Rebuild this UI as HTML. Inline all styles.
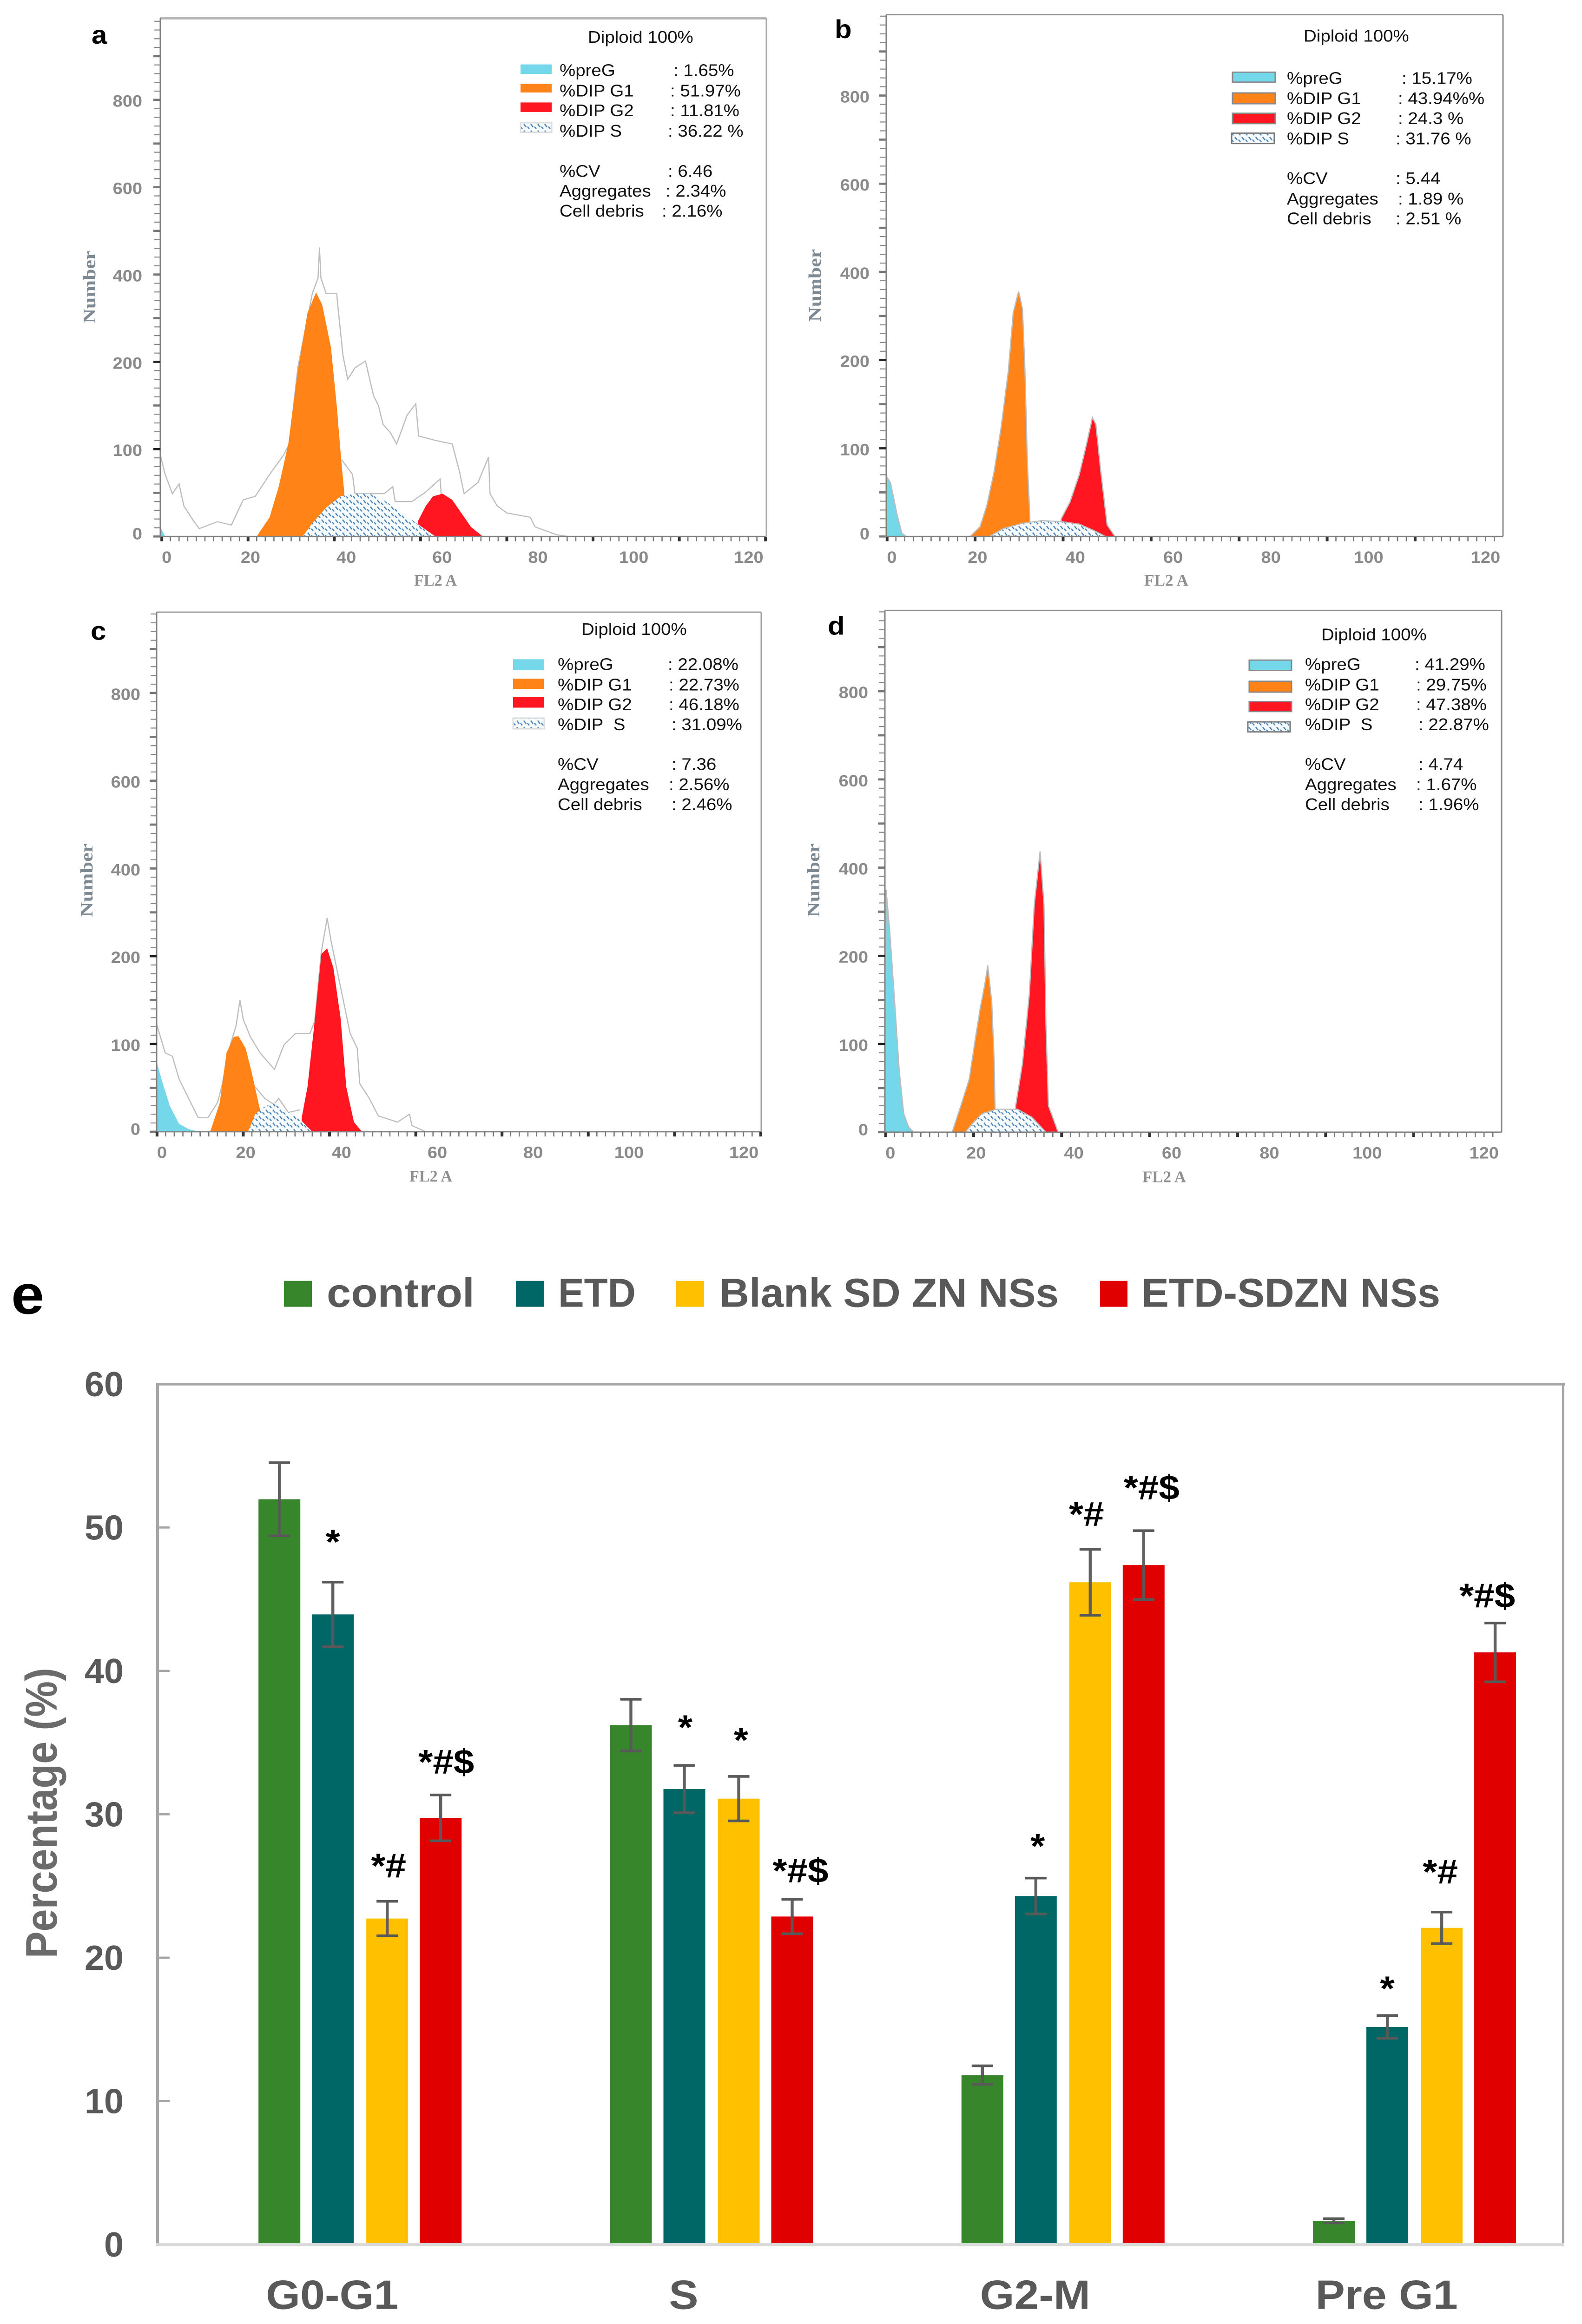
<!DOCTYPE html>
<html lang="en">
<head>
<meta charset="utf-8">
<title>Cell cycle analysis</title>
<style>
html,body{margin:0;padding:0;background:#fff;width:100%;height:100%;overflow:hidden;}
svg{display:block;position:absolute;left:0;top:0;width:100vw;height:100vh;overflow:hidden;}
.st{font-family:"Liberation Sans",sans-serif;font-size:38.5px;fill:#111;}
.ax{font-family:"Liberation Serif",serif;font-weight:bold;fill:#7d8a94;font-size:38px;}
.fl{font-family:"Liberation Serif",serif;font-weight:bold;fill:#8f8f8f;font-size:38px;}
.pl{font-family:"Liberation Sans",sans-serif;font-weight:bold;fill:#000;font-size:60px;}
.lg{font-family:"Liberation Sans",sans-serif;font-weight:bold;fill:#595959;font-size:94px;}
</style>
</head>
<body>
<svg id="figure" xmlns="http://www.w3.org/2000/svg" viewBox="0 0 3404 5376" preserveAspectRatio="none">
<defs>
<pattern id="hatch" width="15" height="15" patternUnits="userSpaceOnUse">
<rect width="15" height="15" fill="#f6fbfe"/>
<path d="M2 2 L7 9 M10 8 L14 13" stroke="#4a83b8" stroke-width="2.6" fill="none"/>
</pattern>
</defs>
<rect width="3404" height="5376" fill="#fff"/>

<g id="panel-a"></g>
<g id="panel-b"></g>
<g id="panel-c"></g>
<g id="panel-d"></g>

<g>
<text class="pl" x="197" y="101" font-size="62">a</text>
<text class="ax" transform="translate(205 664) rotate(-90)" text-anchor="middle" textLength="168" lengthAdjust="spacingAndGlyphs">Number</text>
<text class="fl" x="891" y="1355" textLength="92" lengthAdjust="spacingAndGlyphs">FL2 A</text>
<text class="st" x="1265" y="99">Diploid 100%</text>
<rect x="1120" y="149" width="67" height="22" fill="#75d7ea"/>
<rect x="1120" y="194" width="67" height="20" fill="#ff8317"/>
<rect x="1120" y="237" width="67" height="22" fill="#ff1620"/>
<rect x="1120" y="284" width="67" height="22" fill="url(#hatch)" stroke="#ddd" stroke-width="3"/>
<text class="st" x="1204" y="176">%preG</text>
<text class="st" x="1204" y="223">%DIP G1</text>
<text class="st" x="1204" y="269">%DIP G2</text>
<text class="st" x="1204" y="316">%DIP S</text>
<text class="st" x="1449" y="176">: 1.65%</text>
<text class="st" x="1442" y="223">: 51.97%</text>
<text class="st" x="1442" y="269">: 11.81%</text>
<text class="st" x="1437" y="316">: 36.22 %</text>
<text class="st" x="1204" y="409">%CV</text>
<text class="st" x="1204" y="455">Aggregates</text>
<text class="st" x="1204" y="501">Cell debris</text>
<text class="st" x="1437" y="409">: 6.46</text>
<text class="st" x="1432" y="455">: 2.34%</text>
<text class="st" x="1424" y="501">: 2.16%</text>
</g>

<g>
<text class="pl" x="1796" y="88">b</text>
<text class="ax" transform="translate(1766 660) rotate(-90)" text-anchor="middle" textLength="168" lengthAdjust="spacingAndGlyphs">Number</text>
<text class="fl" x="2462" y="1355" textLength="95" lengthAdjust="spacingAndGlyphs">FL2 A</text>
<text class="st" x="2805" y="96">Diploid 100%</text>
<rect x="2652" y="167" width="92" height="23" fill="#75d7ea" stroke="#888" stroke-width="3"/>
<rect x="2652" y="215" width="92" height="25" fill="#ff8317" stroke="#888" stroke-width="3"/>
<rect x="2652" y="262" width="92" height="24" fill="#ff1620" stroke="#888" stroke-width="3"/>
<rect x="2650" y="308" width="92" height="24" fill="url(#hatch)" stroke="#777" stroke-width="3"/>
<text class="st" x="2769" y="194">%preG</text>
<text class="st" x="2769" y="241">%DIP G1</text>
<text class="st" x="2769" y="287">%DIP G2</text>
<text class="st" x="2769" y="334">%DIP S</text>
<text class="st" x="3016" y="194">: 15.17%</text>
<text class="st" x="3008" y="241">: 43.94%%</text>
<text class="st" x="3008" y="287">: 24.3 %</text>
<text class="st" x="3003" y="334">: 31.76 %</text>
<text class="st" x="2769" y="426">%CV</text>
<text class="st" x="2769" y="473">Aggregates</text>
<text class="st" x="2769" y="519">Cell debris</text>
<text class="st" x="3003" y="426">: 5.44</text>
<text class="st" x="3008" y="473">: 1.89 %</text>
<text class="st" x="3003" y="519">: 2.51 %</text>
</g>

<g>
<text class="pl" x="195" y="1480" font-size="62">c</text>
<text class="ax" transform="translate(199 2036) rotate(-90)" text-anchor="middle" textLength="170" lengthAdjust="spacingAndGlyphs">Number</text>
<text class="fl" x="881" y="2733" textLength="92" lengthAdjust="spacingAndGlyphs">FL2 A</text>
<text class="st" x="1251" y="1469">Diploid 100%</text>
<rect x="1104" y="1525" width="67" height="25" fill="#75d7ea"/>
<rect x="1104" y="1570" width="67" height="24" fill="#ff8317"/>
<rect x="1104" y="1612" width="67" height="25" fill="#ff1620"/>
<rect x="1104" y="1661" width="67" height="25" fill="url(#hatch)" stroke="#ddd" stroke-width="3"/>
<text class="st" x="1200" y="1550">%preG</text>
<text class="st" x="1200" y="1597">%DIP G1</text>
<text class="st" x="1200" y="1643">%DIP G2</text>
<text class="st" x="1200" y="1689">%DIP&#160;&#160;S</text>
<text class="st" x="1437" y="1550">: 22.08%</text>
<text class="st" x="1439" y="1597">: 22.73%</text>
<text class="st" x="1439" y="1643">: 46.18%</text>
<text class="st" x="1445" y="1689">: 31.09%</text>
<text class="st" x="1200" y="1781">%CV</text>
<text class="st" x="1200" y="1828">Aggregates</text>
<text class="st" x="1200" y="1874">Cell debris</text>
<text class="st" x="1445" y="1781">: 7.36</text>
<text class="st" x="1439" y="1828">: 2.56%</text>
<text class="st" x="1445" y="1874">: 2.46%</text>
</g>

<g>
<text class="pl" x="1781" y="1468">d</text>
<text class="ax" transform="translate(1763 2036) rotate(-90)" text-anchor="middle" textLength="170" lengthAdjust="spacingAndGlyphs">Number</text>
<text class="fl" x="2458" y="2735" textLength="94" lengthAdjust="spacingAndGlyphs">FL2 A</text>
<text class="st" x="2843" y="1481">Diploid 100%</text>
<rect x="2688" y="1527" width="91" height="24" fill="#75d7ea" stroke="#888" stroke-width="3"/>
<rect x="2688" y="1576" width="91" height="25" fill="#ff8317" stroke="#888" stroke-width="3"/>
<rect x="2688" y="1623" width="91" height="23" fill="#ff1620" stroke="#888" stroke-width="3"/>
<rect x="2685" y="1670" width="91" height="23" fill="url(#hatch)" stroke="#777" stroke-width="3"/>
<text class="st" x="2808" y="1550">%preG</text>
<text class="st" x="2808" y="1597">%DIP G1</text>
<text class="st" x="2808" y="1643">%DIP G2</text>
<text class="st" x="2808" y="1689">%DIP&#160;&#160;S</text>
<text class="st" x="3044" y="1550">: 41.29%</text>
<text class="st" x="3047" y="1597">: 29.75%</text>
<text class="st" x="3047" y="1643">: 47.38%</text>
<text class="st" x="3052" y="1689">: 22.87%</text>
<text class="st" x="2808" y="1781">%CV</text>
<text class="st" x="2808" y="1828">Aggregates</text>
<text class="st" x="2808" y="1874">Cell debris</text>
<text class="st" x="3052" y="1781">: 4.74</text>
<text class="st" x="3047" y="1828">: 1.67%</text>
<text class="st" x="3052" y="1874">: 1.96%</text>
</g>

<g>
<text x="24" y="3039" font-family="Liberation Sans, sans-serif" font-weight="bold" font-size="128" fill="#000">e</text>
<rect x="611" y="2963" width="60" height="60" fill="#38862c"/>
<text class="lg" x="703" y="3023" textLength="318" lengthAdjust="spacingAndGlyphs">control</text>
<rect x="1110" y="2963" width="60" height="60" fill="#006666"/>
<text class="lg" x="1201" y="3023" textLength="167" lengthAdjust="spacingAndGlyphs">ETD</text>
<rect x="1455" y="2963" width="60" height="60" fill="#ffc000"/>
<text class="lg" x="1548" y="3023" textLength="730" lengthAdjust="spacingAndGlyphs">Blank SD ZN NSs</text>
<rect x="2367" y="2963" width="59" height="60" fill="#e00000"/>
<text class="lg" x="2456" y="3023" textLength="643" lengthAdjust="spacingAndGlyphs">ETD-SDZN NSs</text>
</g>

<g id="bar-chart"></g>
<text transform="translate(122 4194) rotate(-90)" text-anchor="middle" font-family="Liberation Sans, sans-serif" font-weight="bold" font-size="96" fill="#6b6b6b" textLength="672" lengthAdjust="spacingAndGlyphs">Percentage (%)</text>
</svg>

<script>
/* ---------- Flow cytometry tick labels ---------- */
const numberTicks = [0, 100, 200, 400, 600, 800];
const fl2Ticks = [0, 20, 40, 60, 80, 100, 120];

/* ---------- Panel a (FL2 A value / cell number) ---------- */
const aPreGX = [1.2, 1.2, 2.2];
const aPreGY = [0, 11, 0];
const aG1X = [21.3, 24, 25.9, 27.9, 29.9, 31.9, 33.7, 35, 36.8, 38, 39, 39.6, 39.6];
const aG1Y = [0, 22, 57, 106, 190, 312, 359, 330, 233, 150, 84, 49, 0];
const aG2X = [55, 55, 56.6, 58.1, 60.1, 62.1, 64, 66, 68.5];
const aG2Y = [0, 18, 35, 46, 49, 42, 27, 11, 0];
const aSX = [30.9, 32.9, 35.8, 38.8, 41.8, 44.8, 47.7, 50.7, 54.7, 58.6];
const aSY = [0, 15, 33, 46, 49, 49, 42, 31, 15, 0];
const aRawX = [1.2, 2.2, 3.7, 5.1, 6.1, 8.1, 9.3, 13.1, 16, 18.5, 21, 24, 26.9, 28.1, 29.9, 32.9, 34.1, 34.4, 34.7, 35.8, 38, 38.3, 39.3, 40.3, 41.8, 44, 45.7, 46.7, 47.7, 49.2, 50.5, 52.7, 54.5, 55.1, 58.6, 62.1, 63.6, 64.6, 67.5, 69.7, 70, 71.5, 73.5, 78.4, 79.4, 83.9, 86.3];
const aRawY = [93, 71, 49, 60, 35, 18, 9, 17, 13, 42, 46, 71, 93, 106, 194, 356, 392, 462, 392, 356, 356, 321, 215, 180, 193, 202, 161, 150, 128, 119, 106, 139, 152, 115, 110, 106, 75, 49, 62, 91, 49, 35, 27, 22, 11, 2, 0];
const aRaw2X = [39, 41.3, 41.8, 47.9, 49.7, 50.2, 53.7, 56.6, 59.6, 59.8];
const aRaw2Y = [88, 71, 49, 49, 57, 40, 40, 51, 66, 49];

/* ---------- Panel b ---------- */
const bPreGX = [1.4, 1.4, 2.2, 3.5, 4.5, 5.4];
const bPreGY = [0, 68, 61, 26, 4, 0];
const bG1X = [18.5, 20.5, 21.9, 23.4, 24.8, 26.3, 27.3, 28.4, 29.2, 29.7, 30.2, 30.7, 30.7];
const bG1Y = [0, 11, 35, 74, 123, 188, 308, 356, 316, 188, 83, 22, 0];
const bG2X = [37.1, 37.1, 38.9, 40.8, 42.3, 43.5, 44.2, 45.2, 46.5, 48.1];
const bG2Y = [0, 20, 39, 70, 105, 135, 127, 74, 13, 0];
const bSX = [22.4, 25.3, 29.2, 33.1, 37, 40.8, 43.7, 46.2];
const bSY = [0, 9, 15, 18, 17, 14, 7, 0];
const bRawX = [];
const bRawY = [];
const bRaw2X = [];
const bRaw2Y = [];

/* ---------- Panel c ---------- */
const cPreGX = [1.4, 1.4, 2.7, 4.2, 6.1, 8.1, 10.3];
const cPreGY = [0, 80, 55, 29, 9, 3, 0];
const cG1X = [12.6, 14.6, 16, 17.5, 18.5, 20, 21.2, 23, 23];
const cG1Y = [0, 33, 90, 108, 109, 95, 69, 25, 0];
const cG2X = [31.7, 31.7, 32.9, 34.4, 35.8, 37, 38.3, 39.8, 41, 42.6, 44.3];
const cG2Y = [0, 16, 51, 126, 205, 218, 187, 130, 51, 11, 0];
const cSX = [20.5, 22, 24, 26.4, 28.9, 31.4, 33.9];
const cSY = [0, 20, 29, 33, 22, 14, 0];
const cRawX = [1.4, 3.2, 4.7, 6.1, 8.1, 10.1, 12.1, 14.1, 15, 16.6, 18, 18.8, 19.5, 21, 23, 26, 28, 30.4, 33.4, 34.4, 35.8, 37, 37.8, 39.8, 41.8, 43.3, 43.8, 45.8, 47.7, 51.7, 54.2, 54.7, 57.6];
const cRawY = [123, 90, 86, 60, 38, 16, 16, 33, 51, 95, 121, 150, 128, 108, 90, 71, 99, 112, 112, 126, 210, 287, 236, 165, 112, 95, 55, 38, 18, 11, 20, 7, 0];
const cRaw2X = [22, 24, 25.9, 26.9, 28.9, 31.4];
const cRaw2Y = [51, 38, 31, 38, 22, 25];

/* ---------- Panel d ---------- */
const dPreGX = [1.4, 1.6, 2.3, 3.3, 4.3, 5.2, 6.2, 7.2];
const dPreGY = [0, 350, 262, 152, 69, 21, 6, 0];
const dG1X = [15.1, 16.9, 18.6, 19.8, 20.8, 21.7, 22.4, 23.2, 23.7, 23.9, 23.9];
const dG1Y = [0, 30, 60, 104, 139, 165, 189, 148, 82, 25, 0];
const dG2X = [28.1, 28.1, 29.5, 30.9, 31.9, 33.1, 33.9, 34.3, 34.8, 36.8];
const dG2Y = [0, 30, 78, 157, 315, 437, 315, 122, 30, 0];
const dSX = [17.8, 19.3, 21.2, 24.2, 28.5, 31.4, 34.3];
const dSY = [0, 10, 21, 26, 26, 17, 0];
const dRawX = [];
const dRawY = [];
const dRaw2X = [];
const dRaw2Y = [];

/* ---------- Bar chart values ---------- */
const phaseNames = ['G0-G1', 'S', 'G2-M', 'Pre G1'];
const seriesNames = ['control', 'etd', 'blank-sd-zn-ns', 'etd-sdzn-ns'];
const controlValues = [51.97, 36.22, 11.81, 1.65];
const etdValues = [43.94, 31.76, 24.3, 15.17];
const blankValues = [22.73, 31.09, 46.18, 22.08];
const comboValues = [29.75, 22.87, 47.38, 41.29];
const controlErrors = [2.55, 1.8, 0.65, 0.15];
const etdErrors = [2.25, 1.65, 1.25, 0.8];
const blankErrors = [1.2, 1.55, 2.3, 1.1];
const comboErrors = [1.6, 1.2, 2.4, 2.05];
const etdMarks = ['*', '*', '*', '*'];
const blankMarks = ['*#', '*', '*#', '*#'];
const comboMarks = ['*#$', '*#$', '*#$', '*#$'];
const percentTicks = [0, 10, 20, 30, 40, 50, 60];

/* ---------- Layout (not data) ---------- */
const SVGNS = 'http://www.w3.org/2000/svg';
const panelLayouts = {
  a: {left: 345, right: 1649, top: 42, base: 1241, slot: 202, x0: 332.7, k: 10.31, labelRight: 306, xLabelBase: 1302, topW: 6, topC: '#b4b4b4', rightC: '#a8a8a8'},
  b: {left: 1907, right: 3234, top: 34, base: 1241, slot: 204, x0: 1893, k: 10.52, labelRight: 1871, xLabelBase: 1302, topW: 3, topC: '#8c8c8c', rightC: '#8c8c8c'},
  c: {left: 337, right: 1638, top: 1416, base: 2618, slot: 203, x0: 322.4, k: 10.31, labelRight: 302, xLabelBase: 2679, topW: 3, topC: '#9a9a9a', rightC: '#a0a0a0'},
  d: {left: 1904, right: 3231, top: 1412, base: 2619, slot: 204, x0: 1889.8, k: 10.52, labelRight: 1868, xLabelBase: 2680, topW: 3, topC: '#8c8c8c', rightC: '#8c8c8c'}
};
const panelSeries = {
  a: {preg: [aPreGX, aPreGY], g1: [aG1X, aG1Y], g2: [aG2X, aG2Y], s: [aSX, aSY], raw: [aRawX, aRawY], raw2: [aRaw2X, aRaw2Y]},
  b: {preg: [bPreGX, bPreGY], g1: [bG1X, bG1Y], g2: [bG2X, bG2Y], s: [bSX, bSY], raw: [bRawX, bRawY], raw2: [bRaw2X, bRaw2Y]},
  c: {preg: [cPreGX, cPreGY], g1: [cG1X, cG1Y], g2: [cG2X, cG2Y], s: [cSX, cSY], raw: [cRawX, cRawY], raw2: [cRaw2X, cRaw2Y]},
  d: {preg: [dPreGX, dPreGY], g1: [dG1X, dG1Y], g2: [dG2X, dG2Y], s: [dSX, dSY], raw: [dRawX, dRawY], raw2: [dRaw2X, dRaw2Y]}
};
const fillStyles = {preg: '#75d7ea', g1: '#ff8317', g2: '#ff1620', s: 'url(#hatch)'};

function make(tag, attrs, parent) {
  const node = document.createElementNS(SVGNS, tag);
  for (const key in attrs) node.setAttribute(key, attrs[key]);
  parent.appendChild(node);
  return node;
}

/* FL2 A axis is linear; the Number axis has evenly spaced tick slots */
function numberSlot(n) {
  for (let i = 0; i < numberTicks.length - 1; i++) {
    if (n <= numberTicks[i + 1]) {
      return i + (n - numberTicks[i]) / (numberTicks[i + 1] - numberTicks[i]);
    }
  }
  const last = numberTicks.length - 1;
  return last + (n - numberTicks[last]) / 200;
}
function flowX(p, v) { return p.x0 + v * p.k; }
function flowY(p, n) { return p.base - numberSlot(n) * p.slot; }

function drawPanel(id) {
  const p = panelLayouts[id];
  const data = panelSeries[id];
  const root = document.getElementById('panel-' + id);

  ['raw', 'raw2'].forEach(function (key) {
    const xs = data[key][0];
    const ys = data[key][1];
    if (!xs.length) return;
    const pts = xs.map(function (x, i) { return flowX(p, x).toFixed(1) + ',' + flowY(p, ys[i]).toFixed(1); }).join(' ');
    const line = make('polyline', {points: pts, fill: 'none', stroke: '#bdbdbd', 'stroke-width': 2.5}, root);
    
    
  });

  ['preg', 'g1', 'g2', 's'].forEach(function (key) {
    const xs = data[key][0];
    const ys = data[key][1];
    let d = 'M' + flowX(p, xs[0]).toFixed(1) + ' ' + flowY(p, ys[0]).toFixed(1);
    xs.forEach(function (x, i) { d += ' L' + flowX(p, x).toFixed(1) + ' ' + flowY(p, ys[i]).toFixed(1); });
    d += ' L' + flowX(p, xs[xs.length - 1]).toFixed(1) + ' ' + p.base + ' Z';
    const grayEdge = (id === 'b' || id === 'd');
    const area = make('path', {d: d, fill: fillStyles[key], stroke: grayEdge ? '#bdbdbd' : 'none', 'stroke-width': 2.5}, root);
    
    
  });

  const topEdge = make('rect', {x: p.left, y: p.top - p.topW / 2, width: p.right - p.left, height: p.topW, fill: p.topC}, root);
  
  
  const rightEdge = make('rect', {x: p.right - 1.5, y: p.top, width: 3, height: p.base - p.top, fill: p.rightC}, root);
  
  
  const leftEdge = make('rect', {x: p.left - 1.5, y: p.top, width: 3, height: p.base - p.top + 2, fill: '#808080'}, root);
  
  
  const baseEdge = make('rect', {x: p.left - 13, y: p.base - 1.5, width: p.right - p.left + 13, height: 3, fill: '#808080'}, root);
  
  

  /* minor & major ticks on the Number axis */
  const yTickStep = p.slot / 10;
  for (let i = 0; p.base - i * yTickStep >= p.top - 2; i++) {
    const major = i % 10 === 0;
    const mid = i % 5 === 0;
    const tick = make('rect', {
      x: p.left - (mid ? 15 : 13), y: p.base - i * yTickStep - (mid ? 2.5 : 1.2),
      width: mid ? 15 : 13, height: mid ? 5 : 2.4,
      fill: major && i > 0 && i <= 20 ? '#222' : (mid ? '#777' : '#8a8a8a')
    }, root);
    
    
  }
  /* ticks under the FL2 A axis */
  for (let v = 1.5, i = 0; flowX(p, v) < p.right; v += 1.8, i++) {
    const tick = make('rect', {
      x: flowX(p, v) - (i % 10 === 0 ? 3 : 1.3), y: p.base + 1, width: i % 10 === 0 ? 6 : 2.6, height: 10,
      fill: i % 10 === 0 ? '#333' : '#777'
    }, root);
    
    
  }

  numberTicks.forEach(function (n, i) {
    const label = make('text', {
      x: p.labelRight, y: flowY(p, n) + (n === 0 ? 7 : 16), 'text-anchor': 'end',
      'font-family': 'Liberation Sans, sans-serif', 'font-weight': 'bold', 'font-size': 38, fill: '#8a8a8a'
    }, root);
    label.textContent = String(n);
    
    
  });
  fl2Ticks.forEach(function (v) {
    const nudge = v === 0 ? 26 : (v === 120 ? 41 : 0);
    const label = make('text', {
      x: flowX(p, v) + nudge, y: p.xLabelBase, 'text-anchor': 'middle',
      'font-family': 'Liberation Sans, sans-serif', 'font-weight': 'bold', 'font-size': 38, fill: '#8a8a8a'
    }, root);
    label.textContent = String(v);
    
    
  });
}
['a', 'b', 'c', 'd'].forEach(drawPanel);

/* ---------- Bar chart ---------- */
const plot = {left: 339, right: 3364, top: 3202, base: 5192, perUnit: 33.17};
const groupStart = 774.7;
const groupStep = 756.3;
const barOffset = [-173.5, -58.5, 58.5, 173.5];
const barWidth = 90;
const barColors = ['#38862c', '#006666', '#ffc000', '#e00000'];
const allValues = [controlValues, etdValues, blankValues, comboValues];
const allErrors = [controlErrors, etdErrors, blankErrors, comboErrors];
const allMarks = [null, etdMarks, blankMarks, comboMarks];
/* pixel clearance of each significance mark above its error bar, and horizontal nudge */
const markClearance = [null, [66, 61, 47, 35], [55, 57, 54, 66], [49, 39, 72, 36]];
const markNudge = [null, [0, 2, 4, 0], [3, 5, -8, -3], [12, 18, 17, -17]];

function barY(v) { return plot.base - v * plot.perUnit; }
function barX(g, s) { return groupStart + g * groupStep + barOffset[s]; }

const chart = document.getElementById('bar-chart');
const GREY = '#a6a6a6';

allValues.forEach(function (series, s) {
  series.forEach(function (v, g) {
    const bar = make('rect', {x: barX(g, s) - barWidth / 2, y: barY(v), width: barWidth, height: plot.base - barY(v), fill: barColors[s]}, chart);
    
    
  });
});

const frameTop = make('rect', {x: plot.left - 3, y: plot.top - 3, width: plot.right - plot.left + 6, height: 6, fill: GREY}, chart);


const frameRight = make('rect', {x: plot.right - 3, y: plot.top, width: 5, height: plot.base - plot.top, fill: GREY}, chart);


const frameLeft = make('rect', {x: plot.left - 3, y: plot.top, width: 6, height: plot.base - plot.top, fill: GREY}, chart);


const frameBase = make('rect', {x: plot.left - 3, y: plot.base - 3, width: plot.right - plot.left + 5, height: 7, fill: '#d9d9d9'}, chart);



percentTicks.forEach(function (t) {
  if (t > 0 && t < 60) {
    const tick = make('rect', {x: plot.left, y: barY(t) - 2.5, width: 26, height: 5, fill: GREY}, chart);
    
    
  }
  const str = String(t);
  const label = make('text', {
    x: 266, y: barY(t) + 28, 'text-anchor': 'end', 'font-family': 'Liberation Sans, sans-serif',
    'font-weight': 'bold', 'font-size': 81, fill: '#595959', textLength: 42 * str.length, lengthAdjust: 'spacingAndGlyphs'
  }, chart);
  label.textContent = str;
  
  
});

phaseNames.forEach(function (name, g) {
  const label = make('text', {
    x: groupStart + g * groupStep - 60, y: 5341, 'text-anchor': 'middle', 'font-family': 'Liberation Sans, sans-serif',
    'font-weight': 'bold', 'font-size': 95, fill: '#595959'
  }, chart);
  label.textContent = name;
  
  
});

allValues.forEach(function (series, s) {
  series.forEach(function (v, g) {
    const e = allErrors[s][g];
    const cx = barX(g, s);
    const capW = 46;
    const stem = make('rect', {x: cx - 3.2, y: barY(v + e), width: 6.4, height: barY(v - e) - barY(v + e), fill: '#595959', 'fill-opacity': 0.95}, chart);
    
    
    const capTop = make('rect', {x: cx - capW / 2, y: barY(v + e) - 3, width: capW, height: 6, fill: '#595959'}, chart);
    
    
    const capBottom = make('rect', {x: cx - capW / 2, y: barY(v - e) - 3, width: capW, height: 6, fill: '#595959'}, chart);
    
    

    if (allMarks[s]) {
      const str = allMarks[s][g];
      const mark = make('text', {
        x: cx + markNudge[s][g], y: barY(v + e) - markClearance[s][g], 'text-anchor': 'middle',
        'font-family': 'Liberation Sans, sans-serif', 'font-weight': 'bold', 'font-size': 80, fill: '#000'
      }, chart);
      mark.textContent = str;
      
      
    }
  });
});
</script>
</body>
</html>
